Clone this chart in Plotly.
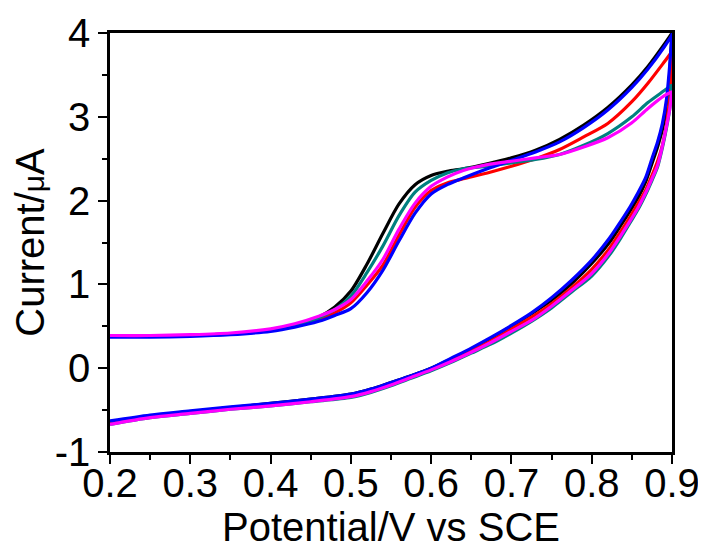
import plotly.graph_objects as go

# Forward (upper) scan potentials, V vs SCE
potential_forward = [0.20, 0.25, 0.30, 0.35, 0.40, 0.43, 0.46, 0.48, 0.50, 0.52, 0.54, 0.56,
                     0.58, 0.60, 0.62, 0.64, 0.67, 0.70, 0.73, 0.76, 0.79, 0.82, 0.85, 0.87,
                     0.89, 0.90]
# Reverse (lower) scan potentials
potential_reverse = [0.900, 0.897, 0.893, 0.888, 0.882, 0.875, 0.867, 0.858, 0.848, 0.836,
                     0.822, 0.800, 0.775, 0.750, 0.725, 0.700, 0.675, 0.650, 0.625, 0.600,
                     0.575, 0.550, 0.525, 0.500, 0.450, 0.400, 0.350, 0.300, 0.250, 0.200]

# Currents (uA) forward scan
black_forward = [0.38, 0.38, 0.39, 0.41, 0.45, 0.51, 0.61, 0.73, 0.92, 1.24, 1.61, 1.96,
                 2.19, 2.30, 2.35, 2.38, 2.44, 2.51, 2.60, 2.73, 2.90, 3.11, 3.38, 3.60, 3.86, 4.00]
red_forward = [0.38, 0.38, 0.39, 0.41, 0.45, 0.50, 0.58, 0.66, 0.78, 0.99, 1.23, 1.59,
               1.92, 2.12, 2.21, 2.26, 2.33, 2.41, 2.50, 2.61, 2.76, 2.92, 3.18, 3.40, 3.65, 3.78]
teal_forward = [0.38, 0.38, 0.39, 0.41, 0.45, 0.51, 0.60, 0.70, 0.86, 1.14, 1.46, 1.82,
                2.10, 2.24, 2.33, 2.38, 2.41, 2.45, 2.49, 2.55, 2.66, 2.80, 3.00, 3.17, 3.31, 3.38]
blue_forward = [0.37, 0.37, 0.38, 0.40, 0.44, 0.49, 0.56, 0.63, 0.71, 0.90, 1.17, 1.52,
                1.85, 2.08, 2.19, 2.27, 2.38, 2.48, 2.58, 2.70, 2.87, 3.08, 3.35, 3.57, 3.83, 3.98]
magenta_forward = [0.39, 0.39, 0.40, 0.42, 0.47, 0.53, 0.62, 0.70, 0.82, 1.04, 1.30, 1.66,
                   1.97, 2.17, 2.28, 2.36, 2.43, 2.47, 2.51, 2.55, 2.64, 2.75, 2.93, 3.10, 3.25, 3.30]

# Currents (uA) reverse scan
black_reverse = [4.00, 3.50, 3.10, 2.85, 2.64, 2.44, 2.22, 2.04, 1.88, 1.70, 1.50, 1.25,
                 1.01, 0.81, 0.65, 0.50, 0.36, 0.23, 0.11, 0.00, -0.09, -0.17, -0.25, -0.31,
                 -0.37, -0.42, -0.47, -0.52, -0.57, -0.64]
red_reverse = [3.78, 3.25, 2.90, 2.66, 2.47, 2.30, 2.12, 1.97, 1.81, 1.63, 1.43, 1.18,
               0.96, 0.77, 0.61, 0.47, 0.33, 0.21, 0.10, -0.01, -0.10, -0.19, -0.27, -0.33,
               -0.39, -0.44, -0.48, -0.53, -0.58, -0.66]
teal_reverse = [3.38, 3.08, 2.86, 2.63, 2.40, 2.24, 2.07, 1.90, 1.74, 1.55, 1.35, 1.10,
                0.91, 0.72, 0.56, 0.42, 0.29, 0.18, 0.07, -0.03, -0.12, -0.21, -0.29, -0.35,
                -0.40, -0.45, -0.49, -0.54, -0.59, -0.67]
blue_reverse = [4.00, 3.60, 3.20, 2.92, 2.70, 2.50, 2.27, 2.10, 1.93, 1.75, 1.55, 1.29,
                1.05, 0.84, 0.66, 0.51, 0.37, 0.24, 0.12, 0.00, -0.09, -0.17, -0.25, -0.31,
                -0.37, -0.42, -0.46, -0.51, -0.56, -0.63]
magenta_reverse = [3.30, 3.08, 2.88, 2.65, 2.42, 2.26, 2.09, 1.92, 1.76, 1.58, 1.38, 1.13,
                   0.93, 0.74, 0.57, 0.44, 0.31, 0.19, 0.08, -0.02, -0.11, -0.20, -0.28, -0.34,
                   -0.40, -0.45, -0.49, -0.54, -0.59, -0.67]

series = [
    ("black", "#000000", black_forward, black_reverse),
    ("red", "#FF0000", red_forward, red_reverse),
    ("teal", "#008080", teal_forward, teal_reverse),
    ("blue", "#0000FF", blue_forward, blue_reverse),
    ("magenta", "#FF00FF", magenta_forward, magenta_reverse),
]

x_tick_vals = [0.2, 0.3, 0.4, 0.5, 0.6, 0.7, 0.8, 0.9]
x_tick_text = ["0.2", "0.3", "0.4", "0.5", "0.6", "0.7", "0.8", "0.9"]
y_tick_vals = [-1, 0, 1, 2, 3, 4]
y_tick_text = ["-1", "0", "1", "2", "3", "4"]

fig = go.Figure()
for name, color, fwd, rev in series:
    fig.add_trace(go.Scatter(
        x=potential_forward + potential_reverse,
        y=fwd + rev,
        mode="lines",
        name=name,
        line=dict(color=color, width=3.2, shape="spline", smoothing=0.8),
        showlegend=False,
    ))

font_family = "Liberation Sans, Arial, sans-serif"
fig.update_layout(
    width=706, height=551,
    margin=dict(l=102, r=42, t=25, b=107),
    paper_bgcolor="white", plot_bgcolor="white",
    font=dict(family=font_family, color="black"),
)
fig.update_xaxes(
    range=[0.2, 0.9], tickvals=x_tick_vals, ticktext=x_tick_text,
    showgrid=False, zeroline=False, automargin=False,
    showline=True, linecolor="black", linewidth=2.5, mirror=True,
    ticks="outside", ticklen=9, tickwidth=2, tickcolor="black",
    minor=dict(ticks="outside", ticklen=5, tickwidth=2, tickcolor="black", dtick=0.05, tick0=0.2, showgrid=False),
    tickfont=dict(size=40, family=font_family),
    ticklabelstandoff=-15,
    title=dict(text="Potential/V vs SCE", font=dict(size=40, family=font_family), standoff=0),
)
fig.update_yaxes(
    range=[-1, 4], tickvals=y_tick_vals, ticktext=y_tick_text,
    showgrid=False, zeroline=False, automargin=False,
    showline=True, linecolor="black", linewidth=2.5, mirror=True,
    ticks="outside", ticklen=9, tickwidth=2, tickcolor="black",
    minor=dict(ticks="outside", ticklen=5, tickwidth=2, tickcolor="black", dtick=0.5, tick0=0, showgrid=False),
    tickfont=dict(size=40, family=font_family),
    title=dict(text="Current/<span style='font-size:30px'>μ</span>A", font=dict(size=40, family=font_family), standoff=4),
)

fig.write_html("out.html")
